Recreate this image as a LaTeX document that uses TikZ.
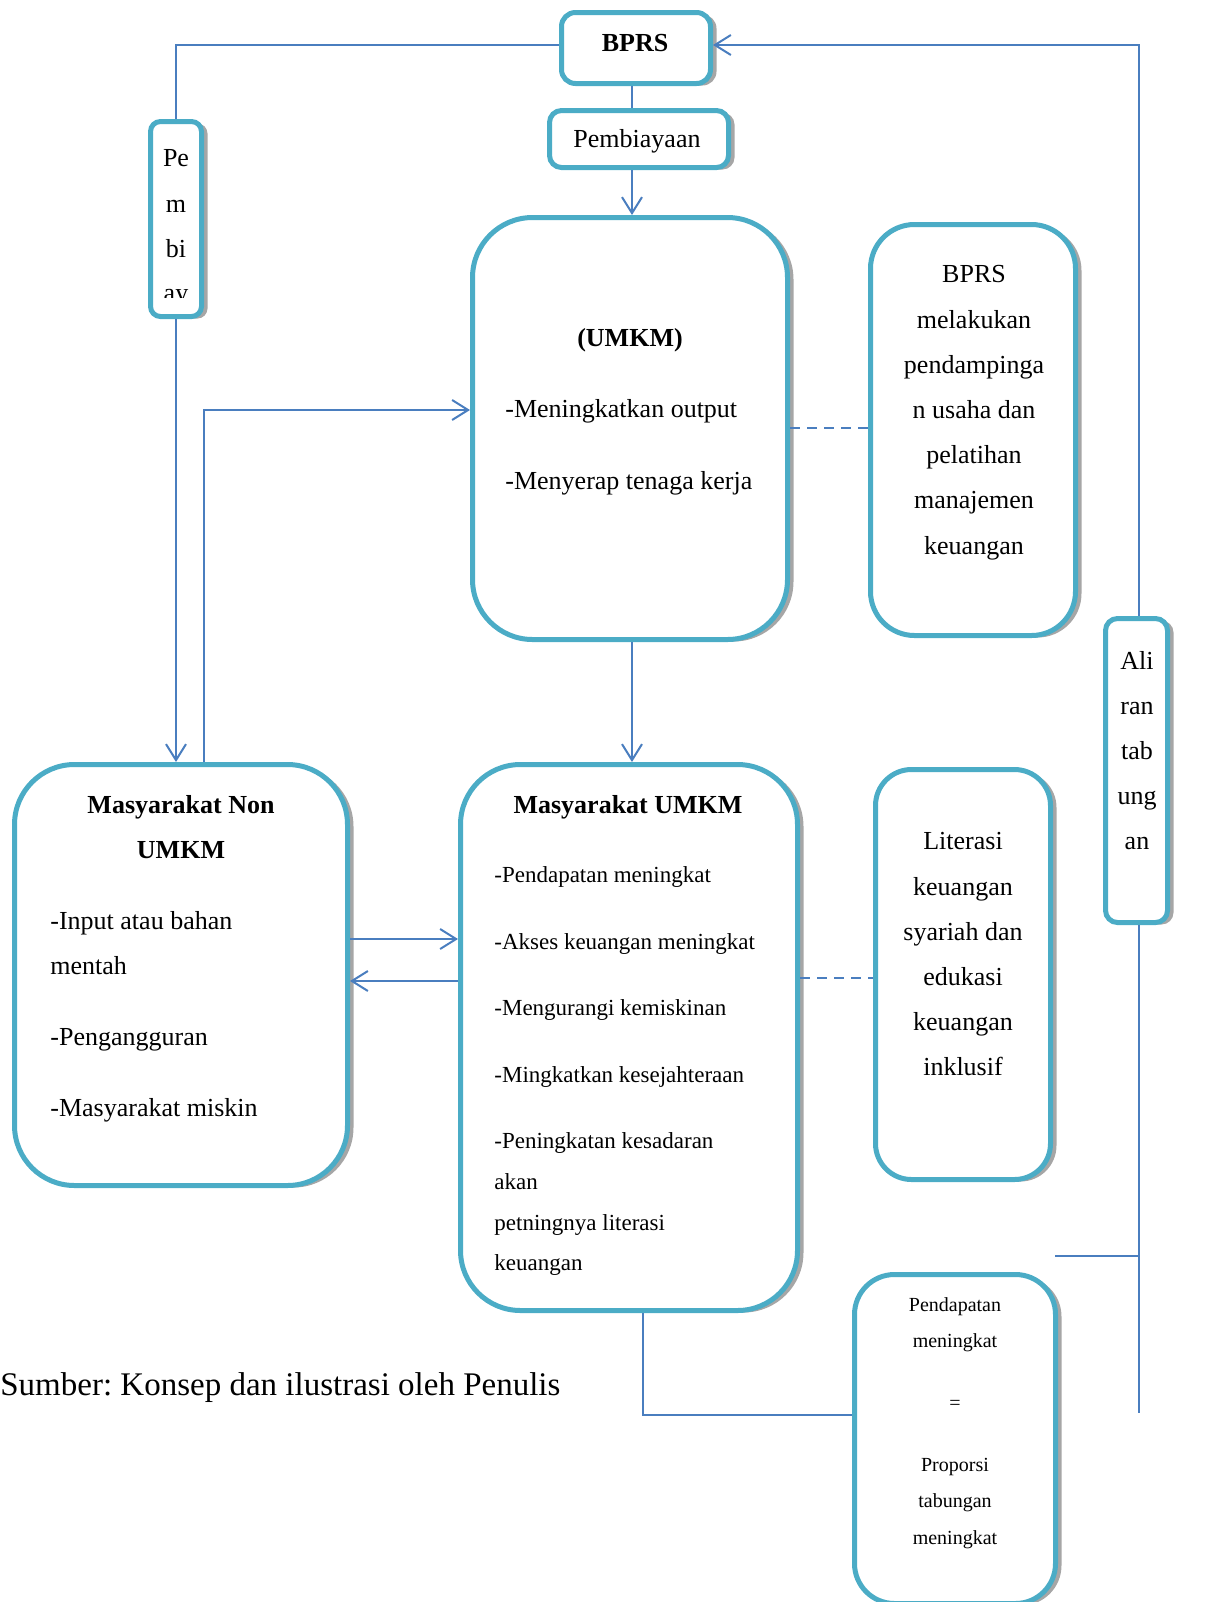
\documentclass[tikz,border=0pt]{standalone}
\usepackage{fontspec}
\setmainfont{Liberation Serif}
\usetikzlibrary{arrows.meta,fit,shadows,calc}
\definecolor{tealbd}{HTML}{4BACC6}
\definecolor{lineblue}{HTML}{4A7EBF}
\newcommand\bx[6]{\node[box, rounded corners=#6, fit={(#2,#3) (#4,#5)}] (#1) {};}
\begin{document}
\begin{tikzpicture}[x=0.5pt,y=-0.5pt,
  box/.style={draw=tealbd, line width=2.5pt, fill=white, inner sep=-1.25pt,
    drop shadow={shadow xshift=3pt,shadow yshift=-1pt,fill=gray!70,opacity=1}},
  conn/.style={draw=lineblue, line width=1pt},
  arr/.style={conn, -{Straight Barb[length=8pt,width=10pt]}},
  dashconn/.style={conn, dash pattern=on 5pt off 3.5pt},
  txt/.style={inner sep=0, font=\fontsize{13}{15}\selectfont, anchor=base},
  txtl/.style={inner sep=0, font=\fontsize{13}{15}\selectfont, anchor=base west},
  smallt/.style={inner sep=0, font=\fontsize{11.5}{14}\selectfont, anchor=base west},
  tinyt/.style={inner sep=0, font=\fontsize{10}{12}\selectfont, anchor=base}]

% boxes
\bx{bprs}{559}{10}{713}{86}{7pt}
\bx{pemb}{547}{108}{731}{170}{6pt}
\bx{pv}{148}{119}{204}{319}{5pt}
\bx{umkm}{470}{215}{790}{642}{30pt}
\bx{bprsr}{868}{222}{1078}{638}{22pt}
\bx{non}{12}{762}{350}{1188}{30pt}
\bx{mumkm}{458}{762}{800}{1313}{30pt}
\bx{lit}{873}{767}{1053}{1182}{18pt}
\bx{aliran}{1103}{616}{1170}{925}{6pt}
\bx{pend}{852}{1272}{1058}{1606}{20pt}

% texts
\node[txt, font=\fontsize{13}{15}\selectfont\bfseries] (tbprs) at (635,51) {BPRS};
\node[txt] (tpemb) at (637,147) {Pembiayaan};
\node[txt, font=\fontsize{13}{15}\selectfont\bfseries] (tumkm) at (630,346) {(UMKM)};
\node[txtl] (tu1) at (505,417) {-Meningkatkan output};
\node[txtl] (tu2) at (505,489) {-Menyerap tenaga kerja};

\foreach \t/\y [count=\i] in {BPRS/282, melakukan/328, pendampinga/373, n usaha dan/418, pelatihan/463, manajemen/508, keuangan/554}
  \node[txt] (br\i) at (974,\y) {\t};

\foreach \t/\y [count=\i] in {Pe/166, m/212, bi/257}
  \node[txt] (pv\i) at (176,\y) {\t};
\begin{scope}
  \clip (150,280) rectangle (202,297);
  \node[txt] (pv4) at (176,301) {ay};
\end{scope}

\node[txt, font=\fontsize{13}{15}\selectfont\bfseries] (nt1) at (181,813) {Masyarakat Non};
\node[txt, font=\fontsize{13}{15}\selectfont\bfseries] (nt2) at (181,858) {UMKM};
\foreach \t/\y [count=\i] in {-Input atau bahan/929, mentah/974, -Pengangguran/1045, -Masyarakat miskin/1116}
  \node[txtl] (ni\i) at (50,\y) {\t};

\node[txt, font=\fontsize{13}{15}\selectfont\bfseries] (mt) at (628,813) {Masyarakat UMKM};
\foreach \t/\y [count=\i] in {-Pendapatan meningkat/882, -Akses keuangan meningkat/949, -Mengurangi kemiskinan/1015, -Mingkatkan kesejahteraan/1082, -Peningkatan kesadaran/1148, akan/1189, petningnya literasi/1230, keuangan/1270}
  \node[smallt] (mi\i) at (494,\y) {\t};

\foreach \t/\y [count=\i] in {Literasi/849, keuangan/895, syariah dan/940, edukasi/985, keuangan/1030, inklusif/1075}
  \node[txt] (li\i) at (963,\y) {\t};

\foreach \t/\y [count=\i] in {Ali/669, ran/714, tab/759, ung/804, an/849}
  \node[txt] (al\i) at (1137,\y) {\t};

\foreach \t/\y [count=\i] in {Pendapatan/1311, meningkat/1347, =/1409, Proporsi/1471, tabungan/1507, meningkat/1544}
  \node[tinyt] (pd\i) at (955,\y) {\t};

\node[inner sep=0, anchor=base west, font=\fontsize{16.5}{18}\selectfont] (sumber) at (0,1395) {\frenchspacing Sumber: Konsep dan ilustrasi oleh Penulis};

% helper coordinates
\coordinate (yl) at (0,45);
\coordinate (xc) at (632,0);
\coordinate (xa) at (204,0);
\coordinate (ya) at (0,410);
\coordinate (yd1) at (0,428);
\coordinate (yr) at (0,939);
\coordinate (yl2) at (0,981);
\coordinate (yd2) at (0,978);
\coordinate (xr) at (1139,0);
\coordinate (ab) at (1139,1413);
\coordinate (s1) at (1055,1256);
\coordinate (s2) at (1139,1256);
\coordinate (xm) at (643,0);
\coordinate (yp) at (0,1415);

% connectors
\draw[conn] (bprs.west |- yl) -| (pv.north);
\draw[conn] (xc |- bprs.south) -- (xc |- pemb.north);
\draw[arr] (xc |- pemb.south) -- (xc |- umkm.north);
\draw[arr] (pv.south) -- (pv.south |- non.north);
\draw[arr] (xa |- non.north) |- (umkm.west |- ya);
\draw[arr] (xc |- umkm.south) -- (xc |- mumkm.north);
\draw[dashconn] (umkm.east |- yd1) -- (bprsr.west |- yd1);
\draw[arr] (non.east |- yr) -- (mumkm.west |- yr);
\draw[arr] (mumkm.west |- yl2) -- (non.east |- yl2);
\draw[dashconn] (mumkm.east |- yd2) -- (lit.west |- yd2);
\draw[arr] (xr |- aliran.north) |- (bprs.east |- yl);
\draw[conn] (xr |- aliran.south) -- (ab);
\draw[conn] (s1) -- (s2);
\draw[conn] (xm |- mumkm.south) |- (pend.west |- yp);

\pgfresetboundingbox
\path[use as bounding box] (0,0) rectangle (1205,1602);
\end{tikzpicture}
\end{document}
